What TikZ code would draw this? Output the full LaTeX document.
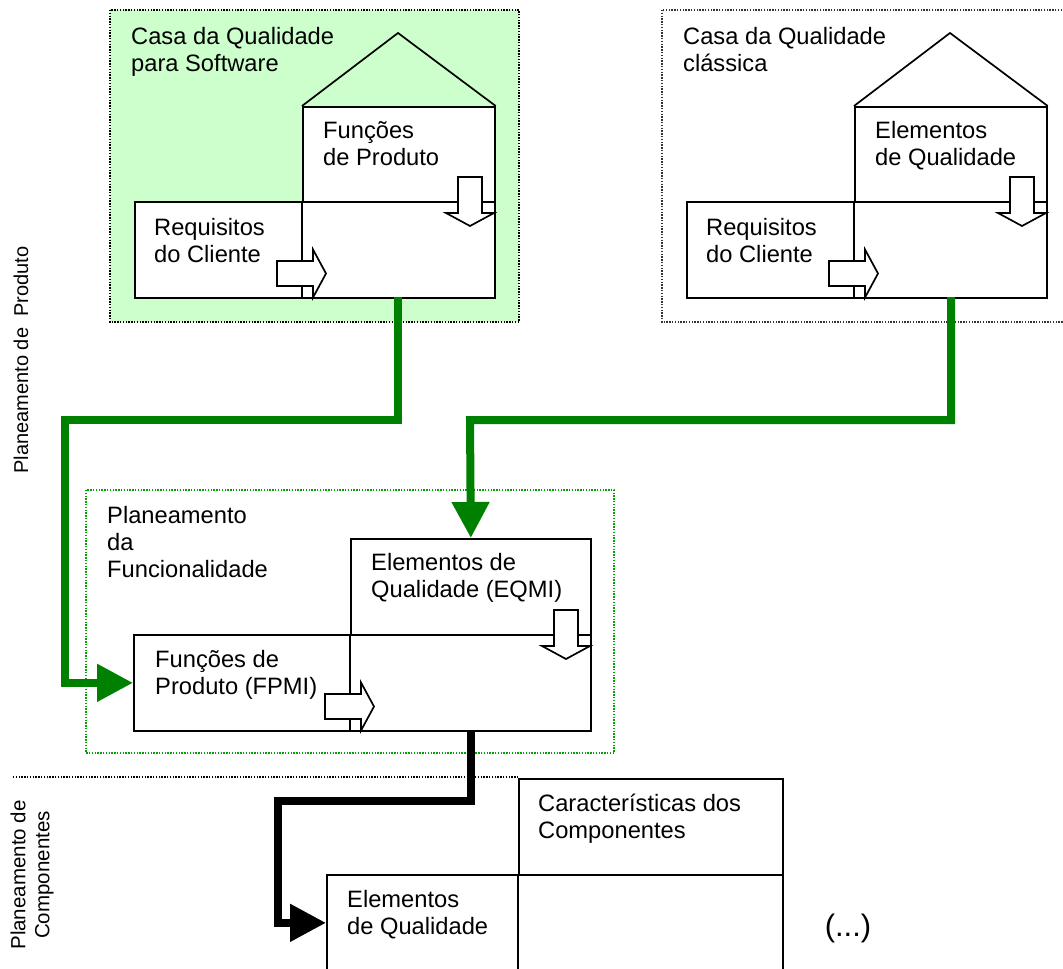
\documentclass[tikz,border=0pt]{standalone}
\usepackage{fontspec}
\setmainfont{Liberation Sans}
\usetikzlibrary{arrows.meta}

\definecolor{pipegreen}{RGB}{0,128,0}
\definecolor{housebg}{RGB}{204,255,204}
\definecolor{frameg}{RGB}{0,160,0}

\newcommand\mainfs{\fontsize{23.7}{27}\selectfont}
\newcommand\hstrut{\rule{0pt}{20pt}}

\begin{document}
\begin{tikzpicture}[x=1pt,y=-1pt,
  frame/.style={line width=1.3pt, dash pattern=on 1.4pt off 1.4pt},
  cell/.style={draw, line width=1.7pt, fill=white, anchor=north west, inner sep=0pt},
  wall/.style={line width=1.7pt},
  lbl/.style={anchor=north west, inner sep=0pt, align=left, font=\mainfs},
  gpipe/.style={draw=pipegreen, line width=8pt, -{Triangle[length=36pt,width=36pt]}},
  kpipe/.style={draw=black, line width=8pt, -{Triangle[length=36pt,width=36pt]}},
  rblock/.pic={\filldraw[fill=white, line width=1.7pt, line join=miter]
     (-25,12.5) -- (11,12.5) -- (11,24) -- (24,0) -- (11,-24) -- (11,-12.5) -- (-25,-12.5) -- cycle;},
  dblock/.pic={\filldraw[fill=white, line width=1.7pt, line join=miter]
     (-12,-24) -- (12,-24) -- (12,12) -- (24,12) -- (0,25) -- (-24,12) -- (-12,12) -- cycle;}]

\useasboundingbox (0,0) rectangle (1063,969);

% ---------- frames ----------
\filldraw[fill=housebg, frame] (110,10) rectangle (519,322);
\draw[frame, draw=black!80] (662,10) rectangle (1075,322);
\draw[frame] (13,777) -- (518,777);

% ---------- house of quality for software ----------
\node[cell, minimum width=192pt, minimum height=95pt] (fun1) at (302,106) {};
\node[cell, minimum width=360pt, minimum height=96pt] (req1) at (134,201) {};
\draw[wall, line join=miter] (fun1.north west) -- (398,33) -- (fun1.north east);
\draw[wall] (fun1.south west) -- (fun1.south west |- req1.south);
\pic at (302,273.5) {rblock};
\pic at (470,201) {dblock};
\node[lbl] (t1) at (131,24) {\hstrut Casa da Qualidade\\para Software};
\node[lbl] (f1) at (323,118) {\hstrut Funções\\de Produto};
\node[lbl] (r1) at (154,215) {\hstrut Requisitos\\do Cliente};

% ---------- classic house of quality ----------
\node[cell, minimum width=192pt, minimum height=95pt] (fun2) at (854,106) {};
\node[cell, minimum width=360pt, minimum height=96pt] (req2) at (686,201) {};
\draw[wall, line join=miter] (fun2.north west) -- (950,33) -- (fun2.north east);
\draw[wall] (fun2.south west) -- (fun2.south west |- req2.south);
\pic at (854,273.5) {rblock};
\pic at (1022,201) {dblock};
\node[lbl] (t2) at (683,24) {\hstrut Casa da Qualidade\\clássica};
\node[lbl] (f2) at (875,118) {\hstrut Elementos\\de Qualidade};
\node[lbl] (r2) at (706,215) {\hstrut Requisitos\\do Cliente};

% ---------- functionality planning ----------
\node[cell, minimum width=240pt, minimum height=96pt] (eq) at (350,538) {};
\node[cell, minimum width=457pt, minimum height=96pt] (fp) at (133,634) {};
\draw[wall] (eq.south west) -- (eq.south west |- fp.south);
\pic at (350,706.5) {rblock};
\pic at (566,634) {dblock};
\node[lbl] (t3) at (107,503) {\hstrut Planeamento\\da\\Funcionalidade};
\node[lbl] (e3) at (371,550) {\hstrut Elementos de\\Qualidade (EQMI)};
\node[lbl] (p3) at (155,647) {\hstrut Funções de\\Produto (FPMI)};

% ---------- component planning ----------
\node[cell, minimum width=264pt, minimum height=96pt] (ch) at (518,778) {};
\node[cell, minimum width=456pt, minimum height=96pt] (el) at (326,874) {};
\draw[wall] (ch.south west) -- (ch.south west |- el.south);
\node[lbl] (c4) at (538,791) {\hstrut Características dos\\Componentes};
\node[lbl] (e4) at (347,887) {\hstrut Elementos\\de Qualidade};
\node[inner sep=0pt, font=\fontsize{31}{36}\selectfont] (etc) at (848,928) {(...)};

% ---------- side labels ----------
\node[rotate=90, inner sep=0pt, font=\fontsize{20}{23}\selectfont] (sideA) at (21,360) {Planeamento de\ \ Produto};
\node[rotate=90, inner sep=0pt, align=center, font=\fontsize{20.5}{24}\selectfont] (sideB) at (32,875) {Planeamento de\\Componentes};

% ---------- middle frame ----------
\draw[frame, draw=frameg] (86,490) rectangle (614,753);

% ---------- flows ----------
\coordinate (s1) at (398,297);
\coordinate (k1) at (65,420);
\coordinate (s2) at (951,297);
\coordinate (k2) at (470,420);
\coordinate (k3) at (278,801);
\draw[gpipe] (s1) |- (k1) |- (fp.west);
\draw[gpipe] (s2) |- (k2) -- (eq.north);
\draw[kpipe] (eq.south |- fp.south) |- (k3) |- (el.west);

\end{tikzpicture}
\end{document}
